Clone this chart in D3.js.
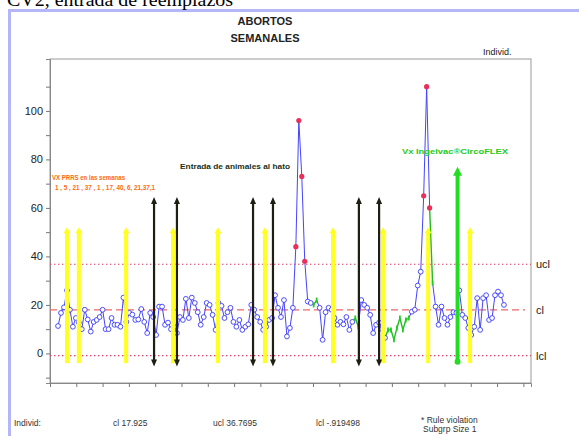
<!DOCTYPE html>
<html>
<head>
<meta charset="utf-8">
<script src="https://cdn.jsdelivr.net/npm/d3@7"></script>
<style>
body { margin: 0; background: #fff; }
svg { display: block; font-family: "Liberation Sans", Arial, sans-serif; }
</style>
</head>
<body>
<svg id="chart" width="579" height="436"></svg>
<script>
"use strict";

// weekly abortions, one value per week (week 1 .. 151)
var abortos = [
    11.3, 16.7, 19, 26, 18, 11, 14.6, 12.7, 10, 18,
    14, 9, 13, 13.8, 15, 18, 10, 10, 14.6, 11.8,
    11.8, 11, 23, 13, 16.7, 16, 13.8, 14, 18.3, 13,
    8.4, 16.7, 15, 7.6, 19.3, 19.3, 11.8, 12.7, 10, 11,
    8.4, 15, 13.8, 22.5,
    14.6, 23, 20.8, 17, 11.8, 15, 20.8, 20, 15.9, 9.7,
    20.8, 19.6, 14.6, 17, 18.8, 13, 11, 13.8, 9.7, 11,
    12, 20, 18, 15, 13, 9.7, 11, 13.8, 14.6, 24,
    18.8, 15, 22, 7, 10.5, 18.8, 44, 96, 73, 38,
    21.4, 20.8, 20, 22, 18.8, 5.6, 17, 18.8, 18, 14.6,
    11.8, 13, 12, 15, 9.7, 13, 14.6, 11,
    22, 20, 18.8, 15.9, 8.4, 11.8, 12.7, 10, 6.4, 9.7,
    9.7, 5.6, 10.5, 14.6, 9.7, 13.8, 14.6, 17.2, 18, 28,
    33.7, 65, 110, 60, 29, 19.3, 11.8, 19.3, 14.6, 11.8,
    15, 17, 16.7, 26, 15.9, 14.6, 10.5, 7.6, 11, 22.8,
    9.7, 22.8, 24, 13.8, 14.6, 24, 25.5, 24, 20
];

// weeks flagged outside the limits (red) and by run rules (green)
var semanasFuera = [81, 82, 83, 84, 124, 125, 126];
var semanasRegla = [87, 88, 101, 102, 112, 113, 114, 115, 116, 117, 118, 119, 127];

// control limits
var cl = 17.925, ucl = 36.7695, lcl = -0.919498;

// events: PRRS vaccination, entry of animals, CircoFLEX vaccination
var vacPRRS = [4, 8, 23.9, 39.7, 54.8, 70.6, 93.5, 110.3, 125.5, 139.6];
var entradas = [33.3, 41, 66.6, 73.3, 102.2, 109];
var vacCirco = [135.4];

var yTicks = d3.range(-10, 111, 10);

var svg = d3.select("#chart");

var plot = {left: 50, top: 59, right: 531, bottom: 383};

var x = d3.scaleLinear().domain([-1.7, 160.1]).range([plot.left, plot.right]);
var y = d3.scaleLinear().domain([-12.2, 121.4]).range([plot.bottom, plot.top]);

// outer frame (lavender)
svg.append("path")
    .attr("d", "M9.5,440 V10.5 H590")
    .attr("fill", "none")
    .attr("stroke", "#b4b6f8")
    .attr("stroke-width", 3);

// cut-off caption from the page above
svg.append("text")
    .attr("x", 7).attr("y", 6)
    .attr("font-family", "Liberation Serif, Times New Roman, serif")
    .attr("font-size", 18)
    .attr("textLength", 226)
    .attr("lengthAdjust", "spacingAndGlyphs")
    .text("CV2, entrada de reemplazos");

svg.append("text").attr("x", 265).attr("y", 25)
    .attr("text-anchor", "middle").attr("font-weight", "bold").attr("font-size", 11)
    .attr("fill", "#222").text("ABORTOS");
svg.append("text").attr("x", 265).attr("y", 42)
    .attr("text-anchor", "middle").attr("font-weight", "bold").attr("font-size", 11)
    .attr("fill", "#222").text("SEMANALES");

svg.append("text").attr("x", 483).attr("y", 55)
    .attr("font-size", 9).attr("fill", "#222").text("Individ.");

// plot box
svg.append("rect")
    .attr("x", plot.left).attr("y", plot.top)
    .attr("width", plot.right - plot.left).attr("height", plot.bottom - plot.top)
    .attr("fill", "none").attr("stroke", "#999");

var yAxis = svg.append("g")
    .attr("transform", "translate(" + plot.left + ",0)")
    .call(d3.axisLeft(y).tickValues(yTicks).tickSize(4).tickPadding(3)
        .tickFormat(function(d) { return d % 20 === 0 ? d : ""; }));
yAxis.select(".domain").attr("stroke", "#888");
yAxis.selectAll(".tick line").attr("stroke", "#777");
yAxis.selectAll("text").attr("font-size", 11).attr("fill", "#222")
    .attr("font-family", "Liberation Sans, Arial, sans-serif");

var xStep = (x.domain()[1] - x.domain()[0]) / 18.29;
var xAxis = svg.append("g")
    .attr("transform", "translate(0," + plot.bottom + ")")
    .call(d3.axisBottom(x).tickValues(d3.range(19).map(function(k) { return x.domain()[0] + k * xStep; }))
        .tickSize(4).tickFormat(""));
xAxis.select(".domain").attr("stroke", "#888");
xAxis.selectAll(".tick line").attr("stroke", "#777");

// limit lines
[ucl, lcl].forEach(function(v) {
    svg.append("line")
        .attr("x1", plot.left).attr("x2", plot.right)
        .attr("y1", y(v)).attr("y2", y(v))
        .attr("stroke", "#e0406a").attr("stroke-width", 1.2)
        .attr("stroke-dasharray", "1.5,2.5");
});
svg.append("line")
    .attr("x1", plot.left).attr("x2", plot.right - 6)
    .attr("y1", y(cl)).attr("y2", y(cl))
    .attr("stroke", "#f06868").attr("stroke-width", 1.3)
    .attr("stroke-dasharray", "7,4");

[["ucl", ucl], ["cl", cl], ["lcl", lcl]].forEach(function(d) {
    svg.append("text").attr("x", 536).attr("y", y(d[1]) + 4)
        .attr("font-size", 11).attr("fill", "#222").text(d[0]);
});

// data
var puntos = abortos.map(function(v, i) {
    var semana = i + 1;
    var tipo = semanasFuera.indexOf(semana) >= 0 ? "r" :
        (semanasRegla.indexOf(semana) >= 0 ? "g" : "n");
    return {semana: semana, valor: v, tipo: tipo};
});

svg.append("g").selectAll("line")
    .data(d3.pairs(puntos))
    .enter().append("line")
    .attr("x1", function(d) { return x(d[0].semana); })
    .attr("y1", function(d) { return y(d[0].valor); })
    .attr("x2", function(d) { return x(d[1].semana); })
    .attr("y2", function(d) { return y(d[1].valor); })
    .attr("stroke", function(d) { return d[1].tipo === "g" ? "#22bb22" : "#4444ff"; })
    .attr("stroke-width", function(d) { return d[1].tipo === "g" ? 1.4 : 1; });

svg.append("g").selectAll("circle")
    .data(puntos.filter(function(d) { return d.tipo === "n"; }))
    .enter().append("circle")
    .attr("cx", function(d) { return x(d.semana); })
    .attr("cy", function(d) { return y(d.valor); })
    .attr("r", 2.4)
    .attr("fill", "#fff").attr("stroke", "#3a3aff").attr("stroke-width", 0.9);

svg.append("g").selectAll("line")
    .data(puntos.filter(function(d) { return d.tipo === "g"; }))
    .enter().append("line")
    .attr("x1", function(d) { return x(d.semana); })
    .attr("x2", function(d) { return x(d.semana); })
    .attr("y1", function(d) { return y(d.valor) - 2.5; })
    .attr("y2", function(d) { return y(d.valor) + 2.5; })
    .attr("stroke", "#22cc22").attr("stroke-width", 1.8);

svg.append("g").selectAll("circle")
    .data(puntos.filter(function(d) { return d.tipo === "r"; }))
    .enter().append("circle")
    .attr("cx", function(d) { return x(d.semana); })
    .attr("cy", function(d) { return y(d.valor); })
    .attr("r", 2.6)
    .attr("fill", "#e8305a");

// yellow: PRRS vaccination, arrow up
var yel = svg.append("g").selectAll("g").data(vacPRRS).enter().append("g");
yel.append("rect")
    .attr("x", function(d) { return x(d) - 2; }).attr("width", 4)
    .attr("y", y(52) + 5).attr("height", y(-4) - y(52) - 5)
    .attr("fill", "#ffff22");
yel.append("path")
    .attr("d", function(d) {
        var cx = x(d), t = y(52);
        return "M" + (cx - 3.5) + "," + (t + 6) + "L" + cx + "," + t + "L" + (cx + 3.5) + "," + (t + 6) + "Z";
    })
    .attr("fill", "#ffff22");

// black: entry of animals, double arrow
var blk = svg.append("g").selectAll("g").data(entradas).enter().append("g");
blk.append("line")
    .attr("x1", function(d) { return x(d); }).attr("x2", function(d) { return x(d); })
    .attr("y1", y(64.5) + 5).attr("y2", y(-5.4) - 5)
    .attr("stroke", "#1e1e12").attr("stroke-width", 2.2);
blk.append("path")
    .attr("d", function(d) {
        var cx = x(d), t = y(64.5), b = y(-5.4);
        return "M" + (cx - 3) + "," + (t + 7) + "L" + cx + "," + t + "L" + (cx + 3) + "," + (t + 7) + "Z" +
            "M" + (cx - 3) + "," + (b - 7) + "L" + cx + "," + b + "L" + (cx + 3) + "," + (b - 7) + "Z";
    })
    .attr("fill", "#1e1e12");

// green: CircoFLEX vaccination
var grn = svg.append("g").selectAll("g").data(vacCirco).enter().append("g");
grn.append("rect")
    .attr("x", function(d) { return x(d) - 2; }).attr("width", 4)
    .attr("y", y(77) + 7).attr("height", y(-3.4) - y(77) - 7)
    .attr("fill", "#22dd22");
grn.append("path")
    .attr("d", function(d) {
        var cx = x(d), t = y(77);
        return "M" + (cx - 4.5) + "," + (t + 9) + "L" + cx + "," + t + "L" + (cx + 4.5) + "," + (t + 9) + "Z";
    })
    .attr("fill", "#22dd22");
grn.append("circle")
    .attr("cx", function(d) { return x(d); }).attr("cy", y(-3.4)).attr("r", 3)
    .attr("fill", "#22dd22");

// annotations
svg.append("text").attr("x", 180).attr("y", 169)
    .attr("font-size", 7.5).attr("font-weight", "bold").attr("fill", "#203020")
    .attr("textLength", 110).attr("lengthAdjust", "spacingAndGlyphs")
    .text("Entrada de animales al hato");
svg.append("text").attr("x", 52).attr("y", 180)
    .attr("font-size", 7.5).attr("font-weight", "bold").attr("fill", "#ff6a10")
    .attr("textLength", 73).attr("lengthAdjust", "spacingAndGlyphs")
    .text("VX PRRS en las semanas");
svg.append("text").attr("x", 55).attr("y", 190)
    .attr("font-size", 7.5).attr("font-weight", "bold").attr("fill", "#ff6a10")
    .attr("textLength", 100).attr("lengthAdjust", "spacingAndGlyphs")
    .text("1 , 5 , 21 , 37 , 1 , 17, 40, 6, 21,37,1");
svg.append("text").attr("x", 402).attr("y", 154)
    .attr("font-size", 8).attr("font-weight", "bold").attr("fill", "#22cc22")
    .attr("textLength", 106).attr("lengthAdjust", "spacingAndGlyphs")
    .text("Vx Ingelvac\u00AECircoFLEX");

// footer
var pie = [
    {t: "Individ:", x: 14, y: 426},
    {t: "cl  17.925", x: 113, y: 426},
    {t: "ucl  36.7695", x: 213, y: 426},
    {t: "lcl  -.919498", x: 316, y: 426},
    {t: "* Rule violation", x: 421, y: 423},
    {t: "Subgrp Size 1", x: 423, y: 432}
];
svg.append("g").selectAll("text").data(pie).enter().append("text")
    .attr("x", function(d) { return d.x; }).attr("y", function(d) { return d.y; })
    .attr("font-size", 8.5).attr("fill", "#333")
    .text(function(d) { return d.t; });
</script>
</body>
</html>
